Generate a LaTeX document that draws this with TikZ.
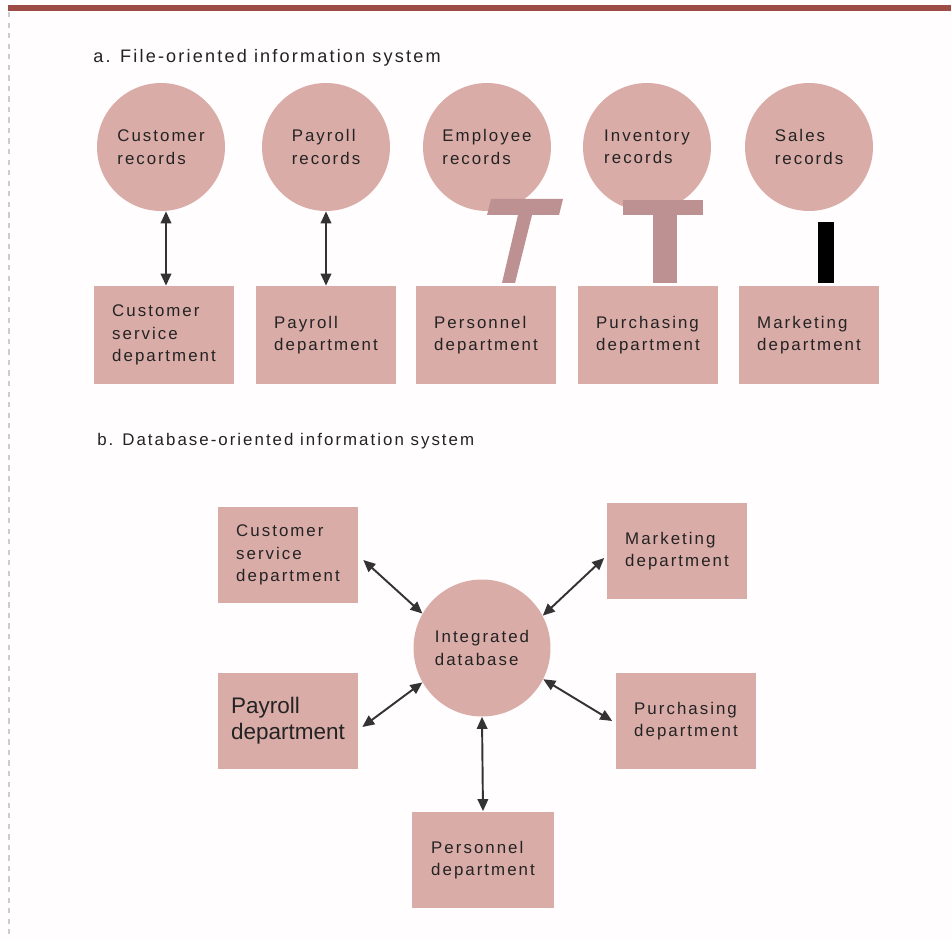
\documentclass[tikz,border=0pt]{standalone}
\usepackage{fontspec}
\setmainfont{Liberation Sans}[LetterSpace=12]
\newfontfamily\plainsans{Liberation Sans}
\usetikzlibrary{arrows.meta, positioning, calc}

\definecolor{boxpink}{RGB}{218,172,168}
\definecolor{rulered}{RGB}{158,76,70}
\definecolor{smudge}{RGB}{189,145,145}
\definecolor{inkgray}{RGB}{35,35,35}

\begin{document}
\begin{tikzpicture}[
    x=0.02cm, y=-0.02cm,
    >={Triangle[length=0.24cm, width=0.21cm]},
    font=\fontsize{9.6}{12.8}\selectfont,
    text=inkgray,
    recnode/.style={circle, fill=boxpink, minimum size=2.56cm, inner sep=0pt, align=left},
    dbnode/.style={circle, fill=boxpink, minimum size=2.74cm, inner sep=0pt, align=left},
    deptnode/.style={rectangle, fill=boxpink, minimum width=2.82cm, minimum height=1.96cm, inner sep=0pt, align=left},
    conn/.style={draw=black!80, line width=1.1pt, <->}
]

% Page and top rule
\useasboundingbox (0,0) rectangle (951,939);
\fill[white!97!pink] (0,0) rectangle (951,939);
\fill[rulered] (8,5) rectangle (951,11);
\draw[gray!40, dashed, line width=0.6pt] (9,12) -- (9,939);

% Section titles
\node[anchor=west, inner sep=0pt, font=\fontsize{10.3}{12.8}\selectfont] (titlea) at (93,58) {a. File-oriented information system};
\node[anchor=west, inner sep=0pt] (titleb) at (97,441) {b. Database-oriented information system};

% a: record files
\foreach \i/\x/\txt in {1/161/{Customer\\records}, 2/326/{Payroll\\records},
    3/487/{Employee\\records}, 4/647/{Inventory\\records}, 5/809/{Sales\\records}}
    \node[recnode] (rec\i) at (\x,147) {\txt};

% a: departments
\foreach \i/\x/\txt in {1/164/{Customer\\service\\department}, 2/326/{Payroll\\department},
    3/486/{Personnel\\department}, 4/648/{Purchasing\\department}, 5/809/{Marketing\\department}}
    \node[deptnode] (dep\i) at (\x,335) {\txt};

% a: links
\draw[conn] ([xshift=0.1cm]rec1.south) -- ([xshift=0.04cm]dep1.north);
\draw[conn] (rec2.south) -- (dep2.north);
\fill[smudge] (491,199) -- (563,199) -- (559,215) -- (532,215) -- (515,283)
    -- (502,283) -- (518,215) -- (487,215) -- cycle;
\fill[smudge] (623,200) rectangle (703,215);
\fill[smudge] (653,215) rectangle (677,283);
\fill[black] (818,222) rectangle (834,283);

% b: integrated database and departments
\node[dbnode] (db) at (482,648) {Integrated\\database};
\node[deptnode, minimum width=2.8cm, minimum height=1.94cm] (bcust) at (288,555) {Customer\\service\\department};
\node[deptnode, minimum width=2.8cm, minimum height=1.94cm, font=\plainsans\fontsize{12.8}{14.6}\selectfont] (bpay) at (288,721) {Payroll\\department};
\node[deptnode, minimum width=2.82cm, minimum height=1.92cm] (bmark) at (677,551) {Marketing\\department};
\node[deptnode, minimum width=2.82cm, minimum height=1.94cm] (bpurch) at (686,721) {Purchasing\\department};
\node[deptnode, minimum width=2.84cm, minimum height=1.94cm] (bpers) at (483,860) {Personnel\\department};

% b: links
\draw[conn] ([xshift=0.1cm, yshift=-0.1cm]bcust.east) -- (db.150);
\draw[conn] ([xshift=0.08cm, yshift=-0.12cm]bpay.east) -- (db.210);
\draw[conn] ([xshift=-0.04cm, yshift=-0.14cm]bmark.west) -- (db.28);
\draw[conn] ([xshift=-0.06cm]bpurch.west) -- (db.-27);
\draw[conn] (bpers.north) -- (db.south);

\end{tikzpicture}
\end{document}
